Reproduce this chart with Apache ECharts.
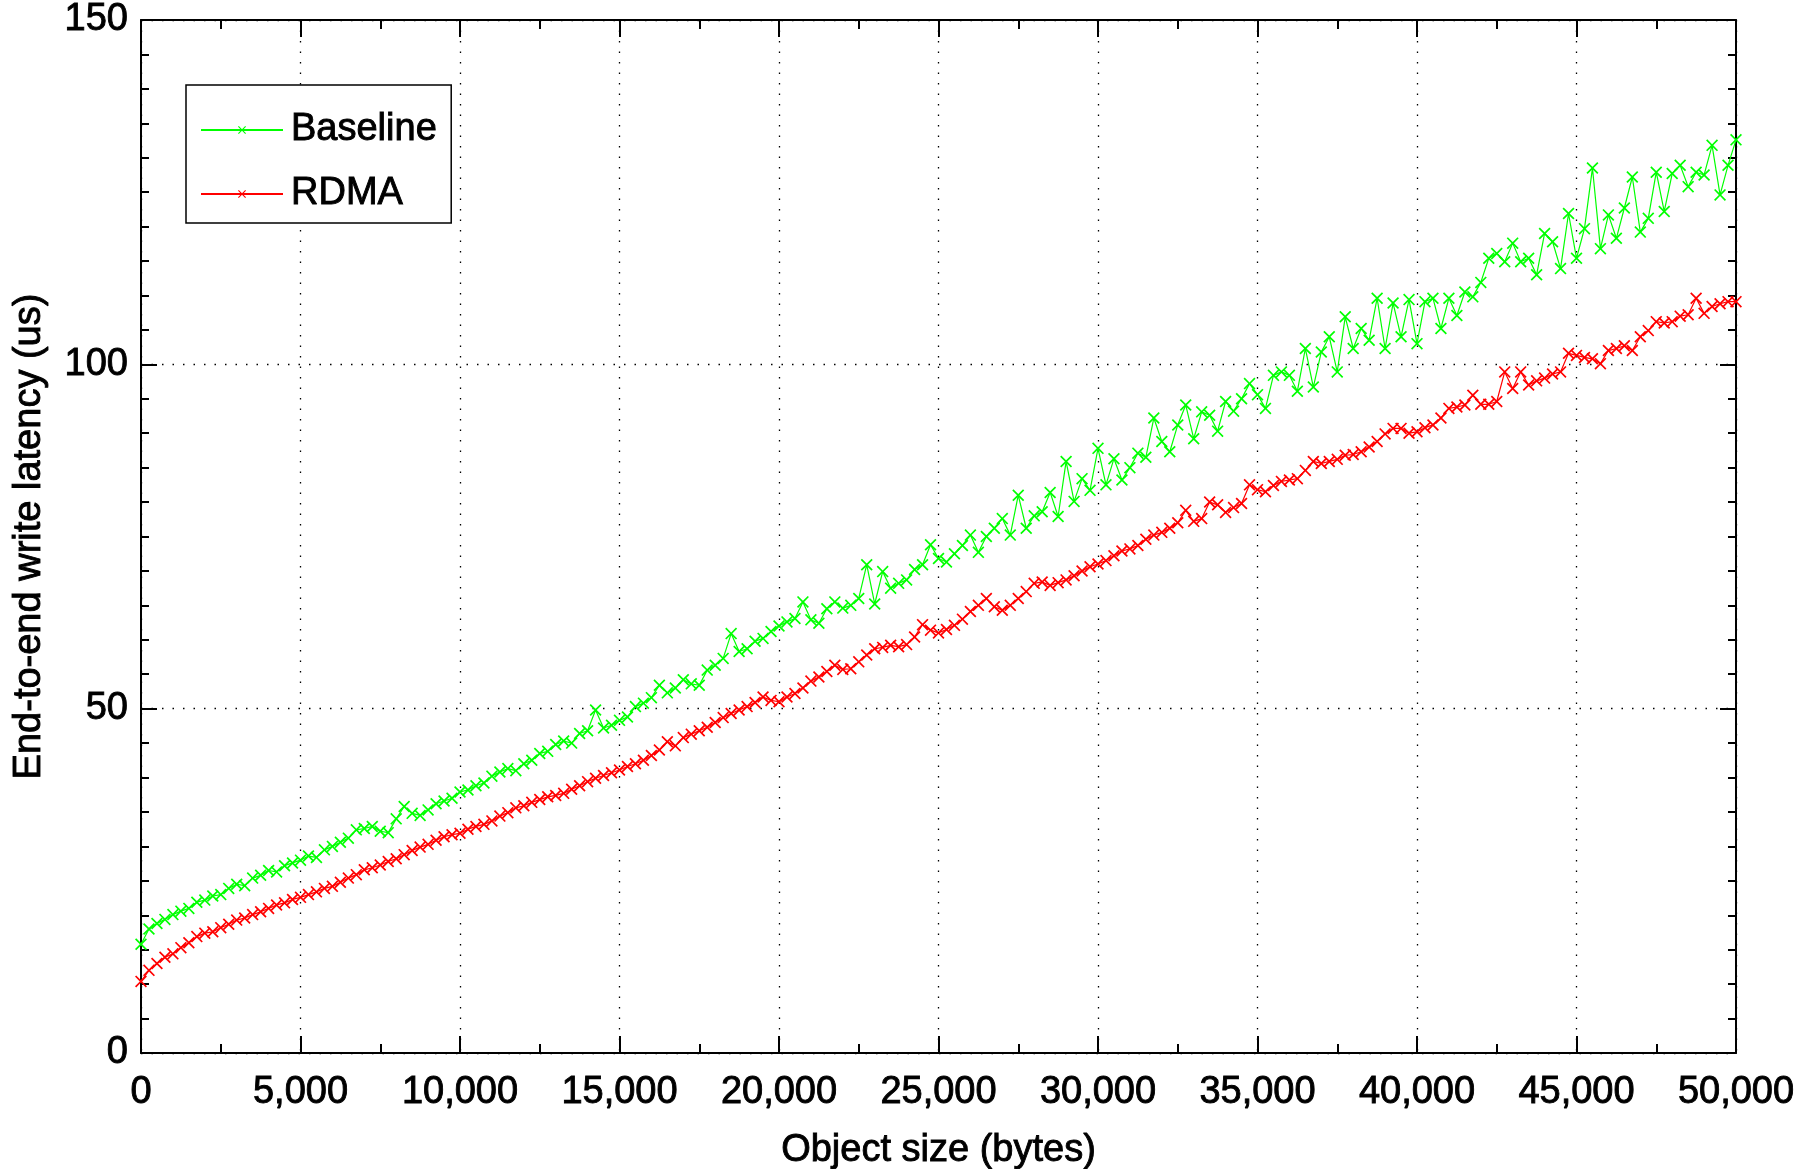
<!DOCTYPE html>
<html>
<head>
<meta charset="utf-8">
<script src="https://cdn.jsdelivr.net/npm/echarts@6/dist/echarts.min.js"></script>
<style>
html,body{margin:0;padding:0;background:#fff;}
#chart{width:1812px;height:1169px;}
</style>
</head>
<body>
<div id="chart"></div>
<script>
// Object sizes (bytes)
var sizes = [0,250,500,750,1000,1250,1500,1750,2000,2250,
2500,2750,3000,3250,3500,3750,4000,4250,4500,4750,
5000,5250,5500,5750,6000,6250,6500,6750,7000,7250,
7500,7750,8000,8250,8500,8750,9000,9250,9500,9750,
10000,10250,10500,10750,11000,11250,11500,11750,12000,12250,
12500,12750,13000,13250,13500,13750,14000,14250,14500,14750,
15000,15250,15500,15750,16000,16250,16500,16750,17000,17250,
17500,17750,18000,18250,18500,18750,19000,19250,19500,19750,
20000,20250,20500,20750,21000,21250,21500,21750,22000,22250,
22500,22750,23000,23250,23500,23750,24000,24250,24500,24750,
25000,25250,25500,25750,26000,26250,26500,26750,27000,27250,
27500,27750,28000,28250,28500,28750,29000,29250,29500,29750,
30000,30250,30500,30750,31000,31250,31500,31750,32000,32250,
32500,32750,33000,33250,33500,33750,34000,34250,34500,34750,
35000,35250,35500,35750,36000,36250,36500,36750,37000,37250,
37500,37750,38000,38250,38500,38750,39000,39250,39500,39750,
40000,40250,40500,40750,41000,41250,41500,41750,42000,42250,
42500,42750,43000,43250,43500,43750,44000,44250,44500,44750,
45000,45250,45500,45750,46000,46250,46500,46750,47000,47250,
47500,47750,48000,48250,48500,48750,49000,49250,49500,49750,
50000];

// Baseline latency (us)
var baseline = [15.8,18.0,18.8,19.4,20.1,20.6,21.0,21.9,22.2,22.8,
23.0,23.9,24.5,24.3,25.4,25.8,26.5,26.3,27.2,27.6,
28.0,28.6,28.4,29.5,30.0,30.6,31.2,32.4,32.6,32.9,
32.2,32.0,34.0,35.8,34.8,34.5,35.3,36.2,36.6,37.0,
37.9,38.2,38.8,39.2,40.2,40.8,41.3,41.0,42.0,42.5,
43.5,43.8,44.8,45.3,45.0,46.4,46.8,49.8,47.2,47.6,
48.3,48.8,50.3,50.8,51.6,53.4,52.3,53.0,54.2,53.6,
53.4,55.6,56.3,57.3,60.9,58.3,58.7,59.8,60.2,61.2,
62.0,62.6,63.1,65.5,62.9,62.4,64.5,65.5,64.6,65.0,
66.0,70.9,65.2,69.9,67.5,68.2,68.7,70.2,70.9,73.8,
71.8,71.3,72.5,73.7,75.2,72.7,75.0,76.2,77.6,75.2,
81.0,76.2,78.0,78.6,81.4,77.9,85.9,80.1,83.4,81.7,
87.8,82.5,86.3,83.2,85.0,87.1,86.5,92.2,88.8,87.3,
91.2,94.1,89.2,93.1,92.6,90.3,94.6,93.2,95.0,97.2,
95.6,93.6,98.4,98.9,98.4,96.1,102.3,96.7,101.8,104.0,
98.9,106.9,102.3,105.2,103.5,109.6,102.3,108.9,104.0,109.4,
103.0,109.1,109.6,105.2,109.6,107.1,110.5,109.8,111.9,115.4,
116.1,114.9,117.6,114.9,115.4,113.0,119.0,117.8,113.9,121.9,
115.4,119.7,128.5,116.8,121.7,118.3,122.7,127.2,119.2,121.2,
127.9,122.2,127.7,128.9,125.8,127.9,127.5,131.8,124.6,128.9,
132.6];

// RDMA latency (us)
var rdma = [10.4,12.0,13.0,13.9,14.4,15.3,16.0,16.9,17.4,17.6,
18.2,18.7,19.3,19.6,20.1,20.5,21.0,21.5,21.8,22.3,
22.6,23.0,23.4,23.9,24.2,24.8,25.4,25.9,26.6,26.9,
27.3,27.8,28.2,28.8,29.4,29.9,30.3,30.9,31.4,31.7,
31.9,32.5,32.9,33.2,33.7,34.4,34.9,35.6,35.9,36.4,
36.8,37.2,37.4,37.7,38.3,38.8,39.4,39.9,40.3,40.7,
41.1,41.6,42.0,42.5,43.2,44.0,45.2,44.6,45.8,46.3,
46.8,47.3,48.0,48.7,49.3,49.8,50.3,50.9,51.7,51.2,
51.0,51.7,52.2,53.0,54.0,54.6,55.4,56.3,55.7,55.8,
56.8,57.8,58.7,58.9,59.2,59.0,59.3,60.4,62.2,61.4,
61.0,61.5,62.1,63.0,64.1,65.0,66.0,64.8,64.3,65.0,
66.0,67.0,68.2,68.4,67.9,68.3,68.7,69.3,70.0,70.6,
71.0,71.5,72.2,72.9,73.2,73.7,74.6,75.2,75.6,76.2,
77.0,78.8,77.2,77.6,80.0,79.6,78.5,79.2,79.8,82.5,
81.8,81.5,82.4,83.0,83.2,83.4,84.6,85.9,85.6,85.9,
86.2,86.8,86.9,87.3,88.0,88.8,89.9,90.7,90.7,90.0,
90.2,90.8,91.2,92.2,93.6,93.8,94.1,95.5,94.2,94.2,
94.6,98.9,96.5,98.9,97.0,97.6,98.0,98.6,98.9,101.6,
101.3,101.0,100.8,100.1,102.0,102.3,102.7,102.0,104.0,104.9,
106.2,106.0,106.2,107.0,107.2,109.6,107.4,108.4,108.8,109.1,
109.1];

var seriesNames = ['Baseline', 'RDMA'];
var xTitle = 'Object size (bytes)';
var yTitle = 'End-to-end write latency (us)';

function pairs(ys) {
  var out = [];
  for (var i = 0; i < sizes.length; i++) out.push([sizes[i], ys[i]]);
  return out;
}
function comma(v) {
  return String(v).replace(/\B(?=(\d{3})+(?!\d))/g, ',');
}

var FONT = 'Liberation Sans';
var FS = 38;
function txt(extra) {
  var o = { fontFamily: FONT, fontSize: FS, fontWeight: 'normal', color: '#000',
            textBorderColor: '#000', textBorderWidth: 0.9 };
  for (var k in extra) o[k] = extra[k];
  return o;
}
var xMark = 'path://M0,1L1,0L5,4L9,0L10,1L6,5L10,9L9,10L5,6L1,10L0,9L4,5Z';

var frameLine = { show: true, onZero: false, lineStyle: { color: '#000', width: 2 } };
var gridDots = { show: true, lineStyle: { color: '#000', width: 1.3, type: [1.5, 9] } };

var chart = echarts.init(document.getElementById('chart'), null, { renderer: 'canvas' });
chart.setOption({
  animation: false,
  backgroundColor: '#fff',
  grid: { left: 141, right: 76, top: 20, bottom: 116, containLabel: false, outerBoundsMode: 'none' },
  legend: {
    left: 186, top: 85,
    orient: 'vertical',
    backgroundColor: '#fff',
    borderColor: '#000', borderWidth: 1.5, borderRadius: 0,
    padding: [25, 14, 9, 14],
    itemWidth: 82, itemHeight: 10,
    itemGap: 24,
    textStyle: txt({ lineHeight: 40, padding: [0, 0, 0, 3] }),
    data: seriesNames
  },
  xAxis: [{
    type: 'value', position: 'bottom', min: 0, max: 50000, interval: 5000,
    name: xTitle, nameLocation: 'middle', nameGap: 79,
    nameTextStyle: txt({}),
    axisLine: frameLine,
    axisTick: { show: true, inside: true, length: 17, lineStyle: { color: '#000', width: 2 } },
    minorTick: { show: true, splitNumber: 2, length: 9, lineStyle: { color: '#000', width: 2 } },
    axisLabel: txt({ margin: 21, formatter: comma }),
    splitLine: gridDots
  }, {
    type: 'value', position: 'top', min: 0, max: 50000, interval: 5000,
    axisLine: frameLine,
    axisTick: { show: true, inside: true, length: 17, lineStyle: { color: '#000', width: 2 } },
    minorTick: { show: true, splitNumber: 2, length: 9, lineStyle: { color: '#000', width: 2 } },
    axisLabel: { show: false },
    splitLine: { show: false }
  }],
  yAxis: [{
    type: 'value', position: 'left', min: 0, max: 150, interval: 50,
    name: yTitle, nameLocation: 'middle', nameGap: 92,
    nameTextStyle: txt({}),
    axisLine: frameLine,
    axisTick: { show: true, inside: true, length: 16, lineStyle: { color: '#000', width: 2 } },
    minorTick: { show: true, splitNumber: 10, length: 8, lineStyle: { color: '#000', width: 2 } },
    axisLabel: txt({ margin: 13, padding: [6, 0, 0, 0] }),
    splitLine: gridDots
  }, {
    type: 'value', position: 'right', min: 0, max: 150, interval: 50,
    axisLine: frameLine,
    axisTick: { show: true, inside: true, length: 16, lineStyle: { color: '#000', width: 2 } },
    minorTick: { show: true, splitNumber: 10, length: 8, lineStyle: { color: '#000', width: 2 } },
    axisLabel: { show: false },
    splitLine: { show: false }
  }],
  series: [{
    name: seriesNames[0], type: 'line', xAxisIndex: 0, yAxisIndex: 0,
    data: pairs(baseline),
    symbol: xMark, symbolSize: 12, showAllSymbol: true,
    itemStyle: { color: '#00ff00' },
    lineStyle: { color: '#00ff00', width: 1.2 },
    emphasis: { disabled: true }
  }, {
    name: seriesNames[1], type: 'line', xAxisIndex: 0, yAxisIndex: 0,
    data: pairs(rdma),
    symbol: xMark, symbolSize: 12, showAllSymbol: true,
    itemStyle: { color: '#ff0000' },
    lineStyle: { color: '#ff0000', width: 1.2 },
    emphasis: { disabled: true }
  }]
});
</script>
</body>
</html>
